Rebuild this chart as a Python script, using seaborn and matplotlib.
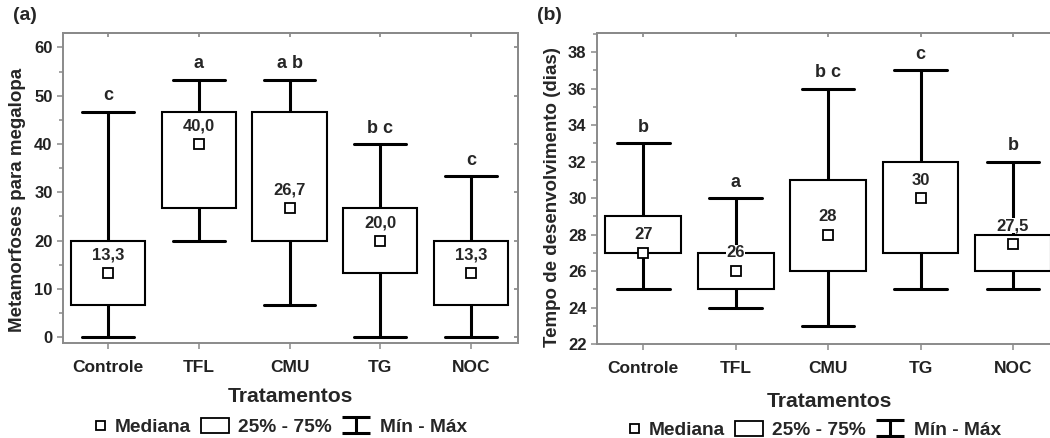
import matplotlib.pyplot as plt
import matplotlib.ticker as mticker
import numpy as np
import pandas as pd
import seaborn as sns
from matplotlib.legend_handler import HandlerPatch
from matplotlib.lines import Line2D
from matplotlib.patches import Patch, Rectangle
from matplotlib.path import Path

treatments = ["Controle", "TFL", "CMU", "TG", "NOC"]

# (a) metamorfoses para megalopa: five-number summary per treatment
meta_min = [0.0, 20.0, 6.7, 0.0, 0.0]
meta_q1 = [6.7, 26.7, 20.0, 13.3, 6.7]
meta_med = [13.3, 40.0, 26.7, 20.0, 13.3]
meta_q3 = [20.0, 46.7, 46.7, 26.7, 20.0]
meta_max = [46.7, 53.3, 53.3, 40.0, 33.3]
meta_med_labels = ["13,3", "40,0", "26,7", "20,0", "13,3"]
meta_letters = ["c", "a", "a b", "b c", "c"]

# (b) tempo de desenvolvimento (dias)
dev_min = [25, 24, 23, 25, 25]
dev_q1 = [27, 25, 26, 27, 26]
dev_med = [27, 26, 28, 30, 27.5]
dev_q3 = [29, 27, 31, 32, 28]
dev_max = [33, 30, 36, 37, 32]
dev_med_labels = ["27", "26", "28", "30", "27,5"]
dev_letters = ["b", "a", "b c", "c", "b"]

GRAY = "#8a8a8a"


def draw_panel(ax, mins, q1s, meds, q3s, maxs, med_labels, letters):
    # with 5 points per group the quartiles come out exactly as the summary
    df = pd.DataFrame({
        "Tratamento": np.repeat(treatments, 5),
        "valor": np.column_stack([mins, q1s, meds, q3s, maxs]).ravel(),
    })
    sns.boxplot(data=df, x="Tratamento", y="valor", order=treatments,
                whis=(0, 100), width=0.82, color="white", linecolor="black",
                linewidth=1.5, medianprops={"visible": False},
                whiskerprops={"linewidth": 2.2}, capprops={"linewidth": 2.2},
                capwidths=0.57, ax=ax)
    sns.pointplot(x=treatments, y=meds, order=treatments, markers="s",
                  linestyles="none", color="black", markersize=6.5,
                  markerfacecolor="white", markeredgecolor="black",
                  markeredgewidth=1.3, errorbar=None, zorder=6, ax=ax)
    for i, (m, lab) in enumerate(zip(meds, med_labels)):
        ax.annotate(lab, (i, m), xytext=(0, 13), textcoords="offset points",
                    ha="center", va="center", fontsize=12, fontweight="bold",
                    bbox=dict(fc="white", ec="none", pad=0.3), zorder=7)
    for i, (mx, let) in enumerate(zip(maxs, letters)):
        ax.annotate(let, (i, mx), xytext=(0, 11.5), textcoords="offset points",
                    ha="center", va="center", fontsize=13, fontweight="bold")

    for s in ax.spines.values():
        s.set_visible(True)
        s.set_color(GRAY)
        s.set_linewidth(1.4)
    ax.tick_params(which="both", direction="out", color=GRAY, width=1.1,
                   labelsize=12.5, labelcolor="#222222")
    ax.tick_params(which="major", length=4)
    ax.tick_params(which="minor", length=3)
    ax.tick_params(axis="x", pad=8)
    ax.tick_params(axis="y", labelsize=12)
    ax.set_xlim(-0.5, 4.52)

    top = ax.secondary_xaxis("top")
    top.set_xticks(range(len(treatments)))
    top.tick_params(direction="in", length=3, color=GRAY, labeltop=False)
    top.spines["top"].set_color(GRAY)
    right = ax.secondary_yaxis("right")
    right.tick_params(direction="in", length=3, color=GRAY, labelright=False)
    right.spines["right"].set_color(GRAY)
    return top, right


def square_right(legend, orig_handle, xdescent, ydescent, width, height, fontsize):
    # small median square pushed to the right end of the handle box
    s = 6.5
    return Rectangle((width - s - xdescent, (height - s) / 2 - ydescent), s, s)


sns.set_theme(style="ticks")
plt.rcParams["font.family"] = ["Liberation Sans", "DejaVu Sans"]
plt.rcParams["font.weight"] = "bold"
plt.rcParams["axes.labelweight"] = "bold"

fig = plt.figure(figsize=(10.5, 4.38), dpi=100)
ax1 = fig.add_axes([63 / 1050, 1 - 343 / 438, 455 / 1050, 310 / 438])
ax2 = fig.add_axes([597 / 1050, 1 - 344 / 438, 464 / 1050, 311 / 438])

top1, right1 = draw_panel(ax1, meta_min, meta_q1, meta_med, meta_q3, meta_max,
                          meta_med_labels, meta_letters)
ax1.set_ylim(-1.2, 63)
ax1.yaxis.set_major_locator(mticker.MultipleLocator(10))
ax1.yaxis.set_minor_locator(mticker.MultipleLocator(5))
right1.set_yticks(np.arange(0, 61, 10))

top2, right2 = draw_panel(ax2, dev_min, dev_q1, dev_med, dev_q3, dev_max,
                          dev_med_labels, dev_letters)
ax2.set_ylim(22, 39.05)
ax2.yaxis.set_major_locator(mticker.MultipleLocator(2))
ax2.yaxis.set_minor_locator(mticker.MultipleLocator(1))
right2.set_yticks(np.arange(22, 39, 2))

for ax, ylab, ycoords, xy in [
    (ax1, "Metamorfoses para megalopa", (-0.099, 0.46), -0.174),
    (ax2, "Tempo de desenvolvimento (dias)", (-0.095, 0.471), -0.186),
]:
    ax.set_ylabel(ylab, fontsize=13.5, fontweight="bold", va="center")
    ax.yaxis.set_label_coords(*ycoords)
    ax.set_xlabel("Tratamentos", fontsize=15.2, fontweight="bold", va="center")
    ax.xaxis.set_label_coords(0.5, xy)

fig.text(13 / 1050, 1 - 15 / 438, "(a)", fontsize=14, fontweight="bold", va="center")
fig.text(537 / 1050, 1 - 15 / 438, "(b)", fontsize=14, fontweight="bold", va="center")

whisker_path = Path(
    [(-1, 0.6), (1, 0.6), (0, 0.6), (0, -0.6), (-1, -0.6), (1, -0.6)],
    [Path.MOVETO, Path.LINETO, Path.MOVETO, Path.LINETO, Path.MOVETO, Path.LINETO],
)
median_handle = Patch(fc="white", ec="black", lw=1.3)
handles = [
    median_handle,
    Patch(fc="white", ec="black", lw=1.3),
    Line2D([], [], marker=whisker_path, ms=19.5, mec="black", mew=2.2, ls="none"),
]
labels = ["Mediana", "25% - 75%", "Mín - Máx"]
for cx, cy in [(272, 427), (806, 430)]:
    fig.legend(handles, labels, loc="center", bbox_to_anchor=(cx / 1050, 1 - cy / 438),
               ncol=3, frameon=False, fontsize=13.8, handlelength=1.45,
               handleheight=0.85, handletextpad=0.5, columnspacing=0.55,
               borderpad=0.1,
               handler_map={median_handle: HandlerPatch(patch_func=square_right)})

fig.savefig("out.png", dpi=100)
